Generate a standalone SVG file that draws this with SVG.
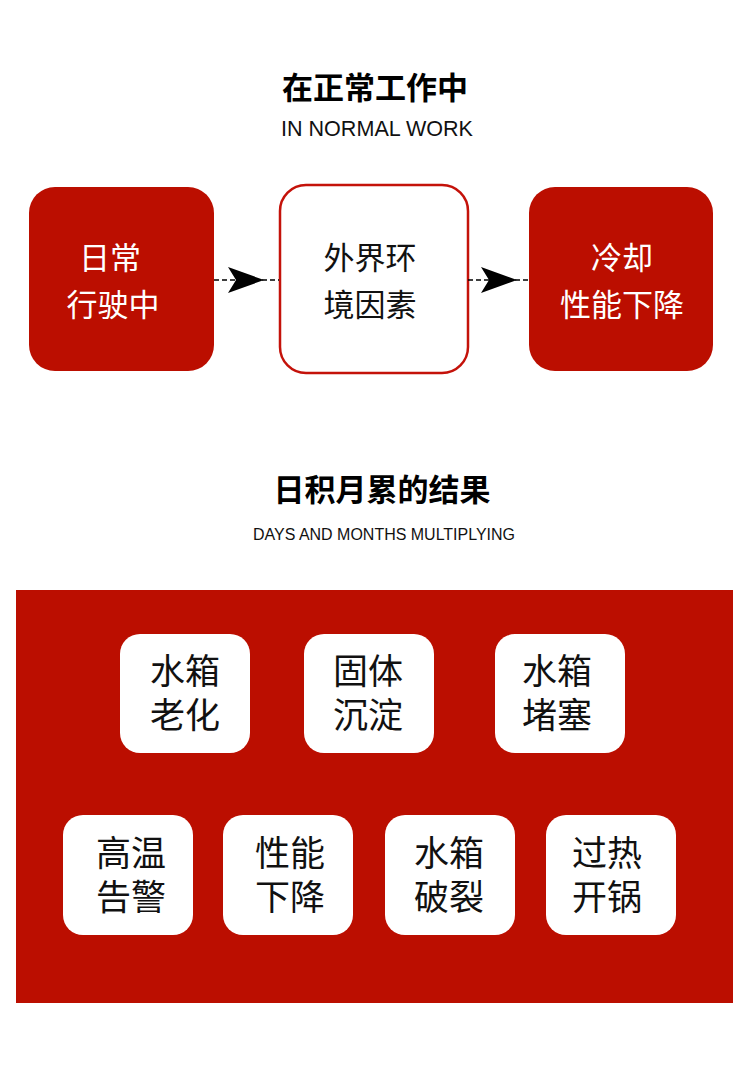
<svg xmlns="http://www.w3.org/2000/svg" width="750" height="1068" viewBox="0 0 750 1068">
<style>
.t{font-family:"Noto Sans CJK SC","Noto Sans",sans-serif;}
.h{font-size:31px;font-weight:bold;fill:#000;text-anchor:middle;}
.s{font-family:"Liberation Sans",Arial,sans-serif;fill:#111;text-anchor:middle;}
.red{fill:#BB0E00;}
.w{fill:#fff;font-size:31px;text-anchor:middle;}
.b{fill:#111;font-size:31px;text-anchor:middle;}
.sm{fill:#111;font-size:35px;text-anchor:middle;}
.card{fill:#fff;}
</style>
<defs>
<marker id="ah" viewBox="0 0 36 26" refX="34" refY="13" markerWidth="36" markerHeight="26" markerUnits="userSpaceOnUse" orient="auto">
<path d="M0,0 L36,13 L0,26 L8,13 Z" fill="#000"/>
</marker>
</defs>
<rect width="750" height="1068" fill="#fff"/>
<g id="title1">
<text class="t h" x="375" y="99">在正常工作中</text>
<text class="s" x="377" y="136" font-size="22" textLength="192" lengthAdjust="spacingAndGlyphs">IN NORMAL WORK</text>
</g>
<g id="node-daily">
<rect class="red" x="29" y="187" width="185" height="184" rx="26"/>
<text class="t w" x="110" y="269">日常</text>
<text class="t w" x="113" y="316">行驶中</text>
</g>
<g id="node-env">
<rect x="280" y="185" width="188" height="188" rx="26" fill="#fff" stroke="#C4120A" stroke-width="2.5"/>
<text class="t b" x="370" y="269">外界环</text>
<text class="t b" x="370" y="316">境因素</text>
</g>
<g id="node-cool">
<rect class="red" x="529" y="187" width="184" height="184" rx="26"/>
<text class="t w" x="622" y="269">冷却</text>
<text class="t w" x="622" y="316">性能下降</text>
</g>
<g id="connectors" stroke="#000" stroke-width="1.5" stroke-dasharray="5,3" fill="none">
<line x1="214" y1="280" x2="262" y2="280" marker-end="url(#ah)"/>
<line x1="262" y1="280" x2="279" y2="280"/>
<line x1="468" y1="280" x2="515" y2="280" marker-end="url(#ah)"/>
<line x1="515" y1="280" x2="529" y2="280"/>
</g>
<g id="title2">
<text class="t h" x="382" y="501">日积月累的结果</text>
<text class="s" x="384" y="540" font-size="16" textLength="262" lengthAdjust="spacingAndGlyphs">DAYS AND MONTHS MULTIPLYING</text>
</g>
<g id="panel">
<rect class="red" x="16" y="590" width="717" height="413"/>
</g>
<g id="c1"><rect class="card" x="120" y="634" width="130" height="119" rx="20"/><text class="t sm" x="185" y="684">水箱</text><text class="t sm" x="185" y="728">老化</text></g>
<g id="c2"><rect class="card" x="304" y="634" width="130" height="119" rx="20"/><text class="t sm" x="368" y="684">固体</text><text class="t sm" x="368" y="728">沉淀</text></g>
<g id="c3"><rect class="card" x="495" y="634" width="130" height="119" rx="20"/><text class="t sm" x="557" y="684">水箱</text><text class="t sm" x="557" y="728">堵塞</text></g>
<g id="c4"><rect class="card" x="63" y="815" width="130" height="120" rx="20"/><text class="t sm" x="131" y="866">高温</text><text class="t sm" x="131" y="910">告警</text></g>
<g id="c5"><rect class="card" x="223" y="815" width="130" height="120" rx="20"/><text class="t sm" x="290" y="866">性能</text><text class="t sm" x="290" y="910">下降</text></g>
<g id="c6"><rect class="card" x="385" y="815" width="130" height="120" rx="20"/><text class="t sm" x="449" y="866">水箱</text><text class="t sm" x="449" y="910">破裂</text></g>
<g id="c7"><rect class="card" x="546" y="815" width="130" height="120" rx="20"/><text class="t sm" x="607" y="866">过热</text><text class="t sm" x="607" y="910">开锅</text></g>
</svg>
